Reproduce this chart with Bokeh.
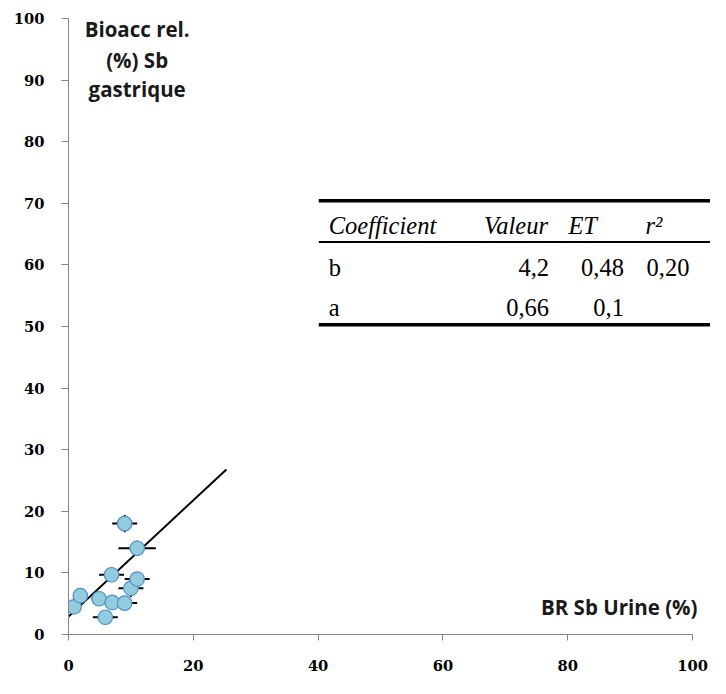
import numpy as np
from bokeh.plotting import figure
from bokeh.models import Range1d, FixedTicker
from bokeh.core.properties import value
from bokeh.embed import file_html
from bokeh.resources import INLINE

# ---- data ----
br_urine = [0.9, 1.9, 4.9, 5.9, 7.0, 6.9, 9.0, 9.0, 10.0, 11.0, 11.0]
bioacc = [4.5, 6.3, 5.8, 2.8, 5.2, 9.7, 5.1, 18.0, 7.5, 14.0, 9.0]
err_x = [0.5, 0.5, 1.2, 2.0, 0.5, 2.0, 2.0, 2.0, 2.0, 3.0, 2.0]
err_y = [0.5, 0.5, 0.5, 0.5, 0.5, 0.5, 0.5, 1.4, 1.4, 1.2, 1.0]
fit_x = [0.0, 25.3]
fit_y = [2.9, 26.8]
x_ticks = [0, 20, 40, 60, 80, 100]
y_ticks = [0, 10, 20, 30, 40, 50, 60, 70, 80, 90, 100]
y_title = ["Bioacc rel.", "(%) Sb", "gastrique"]
x_title = "BR Sb Urine (%)"
table_header = ["Coefficient", "Valeur", "ET", "r\u00b2"]
table_rows = [["b", "4,2", "0,48", "0,20"],
              ["a", "0,66", "0,1", ""]]

# ---- layout constants ----
X_END = 102.88
serif = value("Liberation Serif")
sans = value("Open Sans")

p = figure(width=710, height=678, x_range=Range1d(0, X_END), y_range=Range1d(0, 100),
           output_backend="svg", toolbar_location=None,
           min_border_left=68, min_border_right=0, min_border_top=18, min_border_bottom=44)
p.outline_line_color = None
p.xgrid.visible = False
p.ygrid.visible = False
p.background_fill_color = "white"
p.border_fill_color = "white"

axis_col = "#868686"
for ax in (p.xaxis, p.yaxis):
    ax.axis_line_color = axis_col
    ax.major_tick_line_color = axis_col
    ax.major_tick_in = 0
    ax.minor_tick_line_color = None
    ax.major_label_text_font = "DejaVu Serif"
    ax.major_label_text_font_style = "bold"
    ax.major_label_text_font_size = "14.7px"
    ax.major_label_text_color = "black"

p.yaxis.ticker = FixedTicker(ticks=y_ticks)
p.yaxis.major_tick_out = 7
p.yaxis.major_label_standoff = 17

p.xaxis.ticker = FixedTicker(ticks=x_ticks)
p.xaxis.bounds = (0, 100)
p.xaxis.major_tick_out = 6
p.xaxis.major_label_standoff = 19

# regression line
p.line(fit_x, fit_y, line_color="black", line_width=2)

# error bars
xs = np.array(br_urine)
ys = np.array(bioacc)
ex = np.array(err_x)
ey = np.array(err_y)
p.segment(x0=xs - ex, y0=ys, x1=xs + ex, y1=ys, line_color="black", line_width=2)
p.segment(x0=xs, y0=ys - ey, x1=xs, y1=ys + ey, line_color="black", line_width=2)

# points
p.scatter(br_urine, bioacc, size=14.5, fill_color="#93CDDD", line_color="#4F8FCB", line_width=1.2)

# axis titles
p.text(x=[11.0] * 3, y=[98.3, 93.2, 88.5], text=y_title, text_align="center",
       text_baseline="middle", text_font=sans, text_font_style="bold",
       text_font_size="20.5px", text_color="#1a1a1a")
p.text(x=[100.8], y=[4.5], text=[x_title], text_align="right",
       text_baseline="middle", text_font=sans, text_font_style="bold",
       text_font_size="20.5px", text_color="#1a1a1a")

# coefficient table
TBL_X0 = 40.1
p.segment(x0=[TBL_X0], y0=[70.4], x1=[X_END], y1=[70.4], line_color="black", line_width=3.5)
p.segment(x0=[TBL_X0], y0=[63.7], x1=[X_END], y1=[63.7], line_color="black", line_width=2)
p.segment(x0=[TBL_X0], y0=[50.3], x1=[X_END], y1=[50.3], line_color="black", line_width=3.5)

fs = "24.5px"
hdr_y = 66.35
row_y = [59.55, 53.15]
p.text(x=[41.7], y=[hdr_y], text=[table_header[0]], text_align="left", text_baseline="middle",
       text_font=serif, text_font_style="italic", text_font_size=fs, text_color="black")
p.text(x=[71.7, 82.4, 93.8], y=[hdr_y] * 3, text=table_header[1:], text_align="center",
       text_baseline="middle", text_font=serif, text_font_style="italic",
       text_font_size=fs, text_color="black")
p.text(x=[41.7, 41.7], y=row_y, text=[r[0] for r in table_rows], text_align="left",
       text_baseline="middle", text_font=serif, text_font_size=fs, text_color="black")
for col_x, ci in zip([77.0, 89.0, 99.5], [1, 2, 3]):
    p.text(x=[col_x, col_x], y=row_y, text=[r[ci] for r in table_rows], text_align="right",
           text_baseline="middle", text_font=serif, text_font_size=fs, text_color="black")

open("out.html", "w").write(file_html(p, INLINE))
